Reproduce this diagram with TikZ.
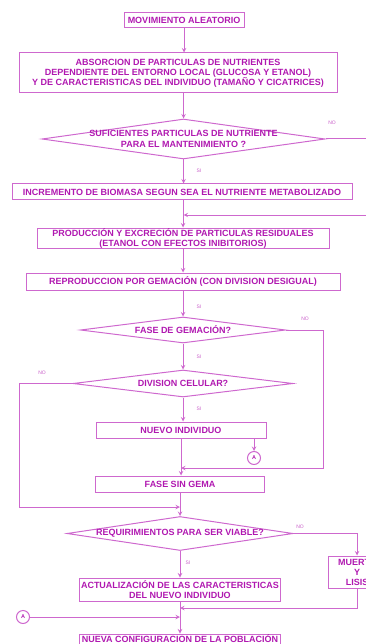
\documentclass[tikz,border=0pt]{standalone}
\usepackage{fontspec}
\setmainfont{Liberation Sans}
\usepackage{tikz}
\usetikzlibrary{shapes.geometric}
\definecolor{linea}{RGB}{206,104,206}
\definecolor{letra}{RGB}{176,24,176}

\begin{document}
\begin{tikzpicture}[x=1pt, y=-1pt,
			mybox/.style={draw=linea, line width=1pt, inner sep=0pt, align=center, text=letra, font=\fontsize{9}{10}\selectfont\bfseries},
			mydiam/.style={draw=linea, line width=1pt, diamond, inner sep=0pt},
			mytext/.style={align=center, text=letra, inner sep=0pt, font=\fontsize{9}{10.5}\selectfont\bfseries},
			mylabel/.style={text=letra!70, inner sep=0pt, font=\fontsize{5}{6}\selectfont},
			mycirc/.style={draw=linea, line width=1pt, circle, minimum size=13pt, inner sep=0pt, text=letra, font=\fontsize{5.5}{6}\selectfont\bfseries},
			myarrow/.style={draw=linea, line width=1pt, ->, >=stealth}
		]
		\useasboundingbox (0,0) rectangle (366,644);

		\node[mybox, minimum width=120, minimum height=15] (m1) at (184,20.5) {MOVIMIENTO ALEATORIO};
		\node[mybox, minimum width=318, minimum height=40] (b2) at (178,73) {
			ABSORCION DE PARTICULAS DE NUTRIENTES\\
			DEPENDIENTE DEL ENTORNO LOCAL (GLUCOSA Y ETANOL)\\
			Y DE CARACTERISTICAS DEL INDIVIDUO (TAMAÑO Y CICATRICES)};

		\node[mydiam, minimum width=283, minimum height=40] (d1) at (183.5,139) {};
		\node[mytext] (d1t) at (d1) {SUFICIENTES PARTICULAS DE NUTRIENTE\\PARA EL MANTENIMIENTO ?};
		\node[mylabel] (no1) at (332,123) {NO};
		\node[mylabel] (si1) at (199,171) {SI};

		\node[mybox, minimum width=340, minimum height=16] (b3) at (182,192) {INCREMENTO DE BIOMASA SEGUN SEA EL NUTRIENTE METABOLIZADO};
		\coordinate (j1) at (183.5,215);
		\node[mybox, minimum width=292, minimum height=20] (b4) at (183,238) {
			PRODUCCIÓN Y EXCRECIÓN DE PARTICULAS RESIDUALES\\
			(ETANOL CON EFECTOS INIBITORIOS)};
		\node[mybox, minimum width=314, minimum height=17] (b5) at (183,281.5) {REPRODUCCION POR GEMACIÓN (CON DIVISION DESIGUAL)};
		\node[mylabel] (si2) at (199,307) {SI};

		\node[mydiam, minimum width=205, minimum height=26] (d2) at (183,330) {};
		\node[mytext] (d2t) at (d2) {FASE DE GEMACIÓN?};
		\node[mylabel] (no2) at (305,319) {NO};
		\node[mylabel] (si3) at (199,357) {SI};

		\node[mydiam, minimum width=220, minimum height=27] (d3) at (183,383.5) {};
		\node[mytext] (d3t) at (d3) {DIVISION CELULAR?};
		\node[mylabel] (no3) at (42,373) {NO};
		\node[mylabel] (si4) at (199,409) {SI};

		\node[mybox, minimum width=170, minimum height=16] (b6) at (181,430) {NUEVO INDIVIDUO};
		\node[mycirc] (a1) at (254,458) {A};
		\coordinate (j2) at (181,468);
		\node[mybox, minimum width=169, minimum height=16] (b7) at (180,484) {FASE SIN GEMA};
		\coordinate (j3) at (180,507);

		\node[mydiam, minimum width=226, minimum height=34] (d4) at (180,533.5) {};
		\node[mytext] (d4t) at (d4) {REQUIRIMIENTOS PARA SER VIABLE?};
		\node[mylabel] (no4) at (300,527) {NO};
		\node[mylabel] (si5) at (188,563) {SI};

		\node[mybox, minimum width=58, minimum height=32] (mt) at (357,572) {MUERTE\\Y\\LISIS};
		\node[mybox, minimum width=201, minimum height=23] (b8) at (180,589.5) {
			ACTUALIZACIÓN DE LAS CARACTERISTICAS\\
			DEL NUEVO INDIVIDUO};
		\coordinate (j5) at (180,608);
		\node[mycirc] (a2) at (23,617) {A};
		\coordinate (j6) at (180,617);
		\node[mybox, minimum width=201, inner ysep=1pt, anchor=north] (b9) at (180,633.5) {NUEVA CONFIGURACION DE LA POBLACIÓN};

		% flujo principal
		\draw[myarrow] (m1.south) -- (m1.south |- b2.north);
		\draw[myarrow] (b2.south -| d1.north) -- (d1.north);
		\draw[myarrow] (d1.south) -- (d1.south |- b3.north);
		\draw[myarrow] (b3.south -| b4.north) -- (b4.north);
		\draw[myarrow] (b4.south) -- (b4.south |- b5.north);
		\draw[myarrow] (b5.south -| d2.north) -- (d2.north);
		\draw[myarrow] (d2.south) -- (d3.north);
		\draw[myarrow] (d3.south) -- (d3.south |- b6.north);
		\draw[myarrow] (b6.south) -- (b6.south |- b7.north);
		\draw[myarrow] (b7.south) -- (d4.north);
		\draw[myarrow] (d4.south) -- (b8.north);
		\draw[myarrow] (b8.south) -- (b9.north);

		% ramas
		\draw[myarrow] (d1.east) -- (372,139) -- (372,215) -- (j1);
		\draw[myarrow] (d2.east) -- (323,330) -- (323,468) -- (j2);
		\draw[myarrow] (d3.west) -- (19,383.5) -- (19,507) -- (j3);
		\draw[myarrow] (b6.south -| a1.north) -- (a1.north);
		\draw[myarrow] (d4.east) -- (mt.north |- d4.east) -- (mt.north);
		\draw[myarrow] (mt.south) -- (mt.south |- j5) -- (j5);
		\draw[myarrow] (a2.east) -- (j6);

	\end{tikzpicture}
\end{document}
